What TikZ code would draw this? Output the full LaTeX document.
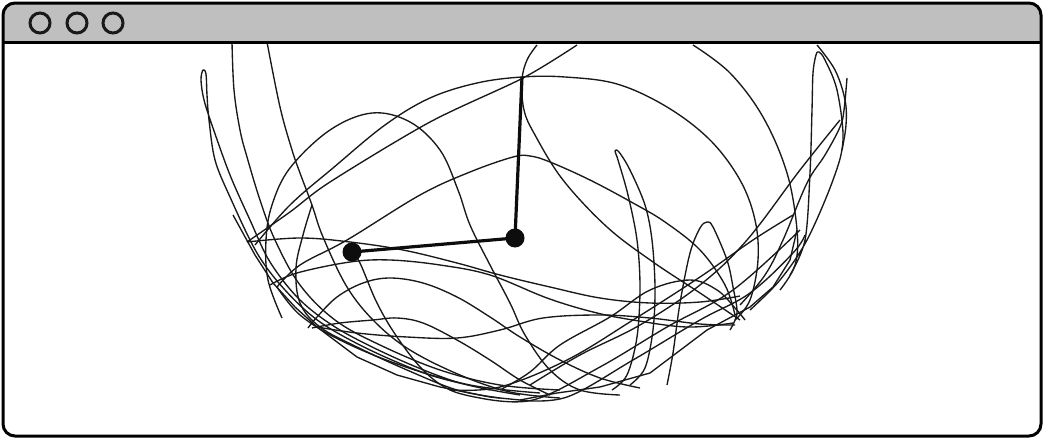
\documentclass[tikz,border=0pt]{standalone}
\definecolor{titlegray}{gray}{0.75}
\tikzset{
 trace/.style={line width=1.35pt, black!90, line join=round},
 arm/.style={line width=3.2pt, black!95},
 bob/.style={circle, fill=black!95, inner sep=0pt, minimum size=19pt},
 winbtn/.style={circle, draw=black!90, line width=3pt, minimum size=20pt, inner sep=0pt},
}
\begin{document}
\begin{tikzpicture}[x=1pt,y=-1pt]
\useasboundingbox (0,0) rectangle (1044,439);
\begin{scope}
\clip[rounded corners=12pt] (3,3) rectangle (1041,436);
\fill[white] (3,3) rectangle (1041,436);
\fill[titlegray] (3,3) rectangle (1041,42);
\end{scope}

% --- trace of the outer bob ---
\begin{scope}[every path/.append style={trace}]
% narrow loop top left
\draw plot[smooth, tension=0.55] coordinates {(520,395) (460,383) (400,360) (340,330) (300,300) (270,262) (250,220) (230,175) (213,128) (204,100) (201,80) (203,70) (206,74) (207,95) (209,120) (215,160) (230,197) (257,253) (285,290) (320,322) (370,350) (430,375) (490,390)};
% near vertical strands from top
\draw plot[smooth, tension=0.6] coordinates {(232,42) (234,90) (240,130) (247,157) (260,200) (275,240) (300,285) (335,320) (380,345) (440,370) (500,385) (560,390)};
\draw plot[smooth, tension=0.6] coordinates {(267,42) (280,107) (292,150) (300,173) (312,205) (323,237) (347,287) (375,322) (410,350) (460,375) (510,392) (560,398)};
% arc D
\draw plot[smooth, tension=0.6] coordinates {(282,318) (268,280) (266,240) (272,205) (290,168) (330,130) (372,113) (410,122) (440,150) (458,190) (470,225) (490,265) (510,303) (525,335) (550,370) (580,390) (620,395)};
% big dome E
\draw plot[smooth, tension=0.6] coordinates {(255,245) (290,205) (333,168) (385,125) (430,98) (477,83) (522,77) (565,77) (617,84) (667,107) (710,140) (740,180) (755,220) (758,260) (750,300) (735,320)};
% F and strand a
\draw plot[smooth, tension=0.5] coordinates {(577,45) (523,78) (430,122) (330,182) (290,212) (247,242)};
\draw plot[smooth, tension=0.6] coordinates {(247,242) (300,238) (350,242) (403,250) (457,263) (500,275) (550,287) (600,298) (650,303) (700,302) (740,296)};
% G
\draw plot[smooth, tension=0.6] coordinates {(277,287) (300,265) (347,240) (420,195) (470,172) (513,157) (530,156) (550,162) (590,180) (633,203) (665,222) (700,250) (725,285) (735,315)};
\draw plot[smooth, tension=0.6] coordinates {(277,287) (300,315) (340,340) (400,365) (470,385) (540,393)};
% H through the pivot
\draw plot[smooth, tension=0.6] coordinates {(537,45) (527,60) (522,80) (524,110) (535,135) (563,180) (607,227) (653,262) (700,293) (740,320)};
% narrow loop right of pivot
\draw plot[smooth, tension=0.55] coordinates {(612,390) (627,375) (637,337) (640,287) (637,240) (628,195) (618,160) (615,151) (619,152) (630,170) (645,205) (652,240) (655,287) (653,330) (645,368) (630,385)};
% top right loop
\draw plot[smooth, tension=0.55] coordinates {(790,275) (805,240) (810,173) (812,110) (813,73) (816,55) (819,52) (825,60) (837,90) (843,140) (833,180) (807,240) (780,280) (750,310)};
\draw plot[smooth, tension=0.6] coordinates {(847,78) (844,110) (840,127) (825,155) (807,183) (783,240) (765,275) (740,305)};
\draw plot[smooth, tension=0.6] coordinates {(817,45) (835,70) (845,100) (846,125) (842,150)};
\draw plot[smooth, tension=0.6] coordinates {(840,120) (800,170) (747,240) (700,285) (640,325) (580,355) (530,385)};
\draw plot[smooth, tension=0.6] coordinates {(693,45) (730,73) (763,117) (787,173) (797,230) (795,265) (780,290)};
% bump at 707,222
\draw plot[smooth, tension=0.55] coordinates {(667,385) (673,353) (680,303) (690,253) (700,228) (707,222) (713,227) (727,260) (733,287) (737,313) (730,330)};
% bowl strands
\draw plot[smooth, tension=0.6] coordinates {(270,285) (297,273) (350,262) (390,260) (440,265) (490,275) (547,298) (593,312) (633,320) (687,327) (733,323)};
\draw plot[smooth, tension=0.6] coordinates {(308,328) (317,317) (337,297) (363,283) (390,278) (423,283) (457,297) (490,317) (520,337) (560,360) (600,378) (640,388)};
\draw plot[smooth, tension=0.6] coordinates {(312,328) (340,323) (373,320) (397,318) (423,323) (457,340) (490,360) (520,380) (550,395)};
\draw plot[smooth, tension=0.6] coordinates {(317,327) (357,333) (407,337) (457,338) (500,330) (543,318) (600,315) (650,318) (700,324) (735,325)};
\draw plot[smooth, tension=0.6] coordinates {(500,390) (530,372) (560,345) (610,317) (650,290) (690,280) (717,290) (735,308) (745,320)};
\draw plot[smooth, tension=0.6] coordinates {(450,390) (500,387) (567,360) (633,320) (700,277) (753,240) (793,215)};
\draw plot[smooth, tension=0.6] coordinates {(480,398) (533,400) (600,367) (667,327) (733,290) (800,230)};
\draw plot[smooth, tension=0.6] coordinates {(520,400) (567,397) (633,360) (700,320) (750,293) (793,253) (805,235)};
\draw plot[smooth, tension=0.6] coordinates {(312,205) (303,235) (296,268) (300,303) (320,327) (357,347) (407,370) (457,390) (500,398)};
\draw plot[smooth, tension=0.6] coordinates {(352,252) (360,263) (377,303) (397,337) (423,370) (450,390) (480,398)};
\draw plot[tension=0.5] coordinates {(233,215) (255,255) (273,283) (295,307) (317,327) (357,357) (397,375) (440,387) (490,397) (520,400) (557,393) (600,387) (650,373) (707,330) (750,307) (773,287) (790,260) (797,230)};
\end{scope}

% --- pendulum ---
\coordinate (pivot) at (522,77);
\node[bob] (b1) at (515,238) {};
\node[bob] (b2) at (352,252) {};
\draw[arm] (pivot) -- (b1.center) -- (b2.center);

% --- window chrome ---
\draw[line width=3pt] (3,42) -- (1041,42);
\draw[line width=3pt, rounded corners=12pt] (3,3) rectangle (1041,436);
\node[winbtn] (btn1) at (40,23) {};
\node[winbtn] (btn2) at (77,23) {};
\node[winbtn] (btn3) at (113,23) {};
\end{tikzpicture}
\end{document}
